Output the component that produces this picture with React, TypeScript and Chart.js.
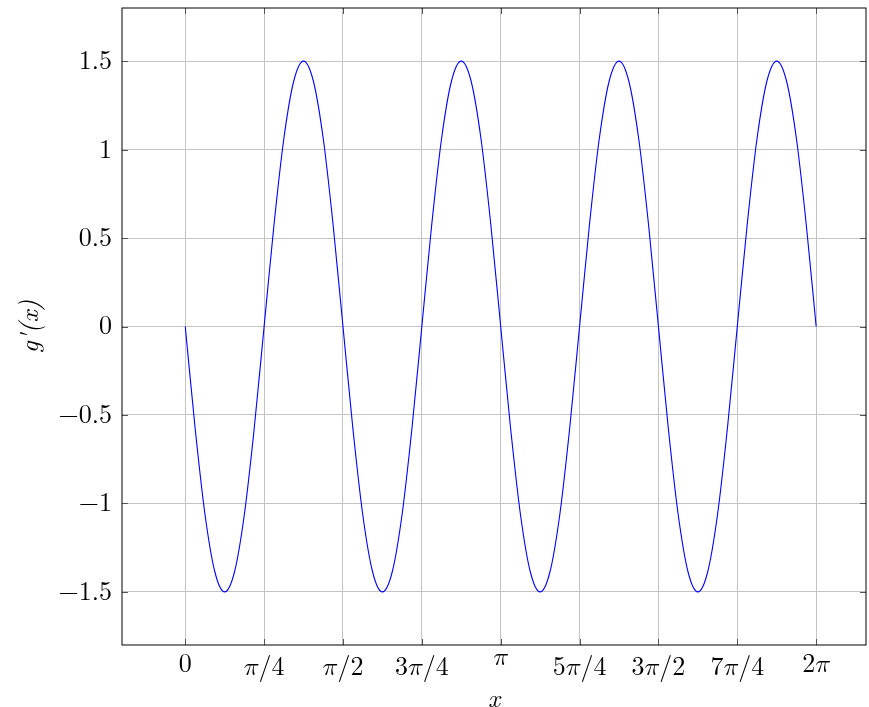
import React, { useEffect, useRef } from "react";
import { Chart, registerables } from "chart.js";

Chart.register(...registerables);

// x positions in units of π
const xValues = [
  0, 0.03125, 0.0625, 0.09375, 0.125, 0.15625, 0.1875, 0.21875,
  0.25, 0.28125, 0.3125, 0.34375, 0.375, 0.40625, 0.4375, 0.46875,
  0.5, 0.53125, 0.5625, 0.59375, 0.625, 0.65625, 0.6875, 0.71875,
  0.75, 0.78125, 0.8125, 0.84375, 0.875, 0.90625, 0.9375, 0.96875,
  1, 1.03125, 1.0625, 1.09375, 1.125, 1.15625, 1.1875, 1.21875,
  1.25, 1.28125, 1.3125, 1.34375, 1.375, 1.40625, 1.4375, 1.46875,
  1.5, 1.53125, 1.5625, 1.59375, 1.625, 1.65625, 1.6875, 1.71875,
  1.75, 1.78125, 1.8125, 1.84375, 1.875, 1.90625, 1.9375, 1.96875,
  2,
];

const gPrimeValues = [
  0, -0.574, -1.061, -1.386, -1.5, -1.386, -1.061, -0.574,
  0, 0.574, 1.061, 1.386, 1.5, 1.386, 1.061, 0.574,
  0, -0.574, -1.061, -1.386, -1.5, -1.386, -1.061, -0.574,
  0, 0.574, 1.061, 1.386, 1.5, 1.386, 1.061, 0.574,
  0, -0.574, -1.061, -1.386, -1.5, -1.386, -1.061, -0.574,
  0, 0.574, 1.061, 1.386, 1.5, 1.386, 1.061, 0.574,
  0, -0.574, -1.061, -1.386, -1.5, -1.386, -1.061, -0.574,
  0, 0.574, 1.061, 1.386, 1.5, 1.386, 1.061, 0.574,
  0,
];

const xTickValues = [0, 0.25, 0.5, 0.75, 1, 1.25, 1.5, 1.75, 2];
const xTickLabels = ["0", "𝜋/4", "𝜋/2", "3𝜋/4", "𝜋", "5𝜋/4", "3𝜋/2", "7𝜋/4", "2𝜋"];
const yTickValues = [-1.5, -1, -0.5, 0, 0.5, 1, 1.5];
const yTickLabels = ["−1.5", "−1", "−0.5", "0", "0.5", "1", "1.5"];

const FONT = "'Latin Modern Roman', 'Latin Modern Math', 'DejaVu Serif', 'Liberation Serif', serif";
const TICK_SIZE = 26;

const innerTicks = {
  id: "innerTicks",
  afterDatasetsDraw(chart: any) {
    const { ctx, chartArea, scales } = chart;
    ctx.save();
    ctx.strokeStyle = "#555555";
    ctx.lineWidth = 1;
    const len = 6;
    for (const v of xTickValues) {
      const px = Math.round(scales.x.getPixelForValue(v)) + 0.5;
      ctx.beginPath();
      ctx.moveTo(px, chartArea.bottom);
      ctx.lineTo(px, chartArea.bottom - len);
      ctx.moveTo(px, chartArea.top);
      ctx.lineTo(px, chartArea.top + len);
      ctx.stroke();
    }
    for (const v of yTickValues) {
      const py = Math.round(scales.y.getPixelForValue(v)) + 0.5;
      ctx.beginPath();
      ctx.moveTo(chartArea.left, py);
      ctx.lineTo(chartArea.left + len, py);
      ctx.moveTo(chartArea.right, py);
      ctx.lineTo(chartArea.right - len, py);
      ctx.stroke();
    }
    ctx.strokeStyle = "#000000";
    ctx.strokeRect(chartArea.left, chartArea.top, chartArea.right - chartArea.left, chartArea.bottom - chartArea.top);
    ctx.restore();
  },
};

export default function App() {
  const ref = useRef<HTMLCanvasElement | null>(null);
  useEffect(() => {
    if (!ref.current) return;
    const chart = new Chart(ref.current, {
      type: "line",
      data: {
        datasets: [
          {
            data: xValues.map((x, i) => ({ x, y: gPrimeValues[i] })),
            borderColor: "#0000ff",
            borderWidth: 1.1,
            pointRadius: 0,
            cubicInterpolationMode: "monotone",
            fill: false,
          },
        ],
      },
      options: {
        animation: false,
        responsive: false,
        events: [],
        layout: { padding: { top: 8, right: 3, left: 0, bottom: 0 } },
        plugins: { legend: { display: false }, tooltip: { enabled: false } },
        scales: {
          x: {
            type: "linear",
            min: -0.2005,
            max: 2.158,
            border: { display: false },
            grid: { color: "#c4c4c4", lineWidth: 1, drawTicks: false },
            afterBuildTicks: (scale: any) => {
              scale.ticks = xTickValues.map((v) => ({ value: v }));
            },
            afterFit: (scale: any) => {
              scale.height = 62;
              scale.paddingLeft = 0;
              scale.paddingRight = 0;
            },
            ticks: {
              padding: 6,
              color: "#000",
              font: (c: any) => {
                const label = xTickLabels[c.index] || "";
                let lh = TICK_SIZE * 1.2;
                if (label === "𝜋") lh -= 20;
                else if (label.indexOf("/") < 0) lh -= 5;
                return { family: FONT, size: TICK_SIZE, lineHeight: lh + "px" };
              },
              maxRotation: 0,
              autoSkip: false,
              callback: (v: any) => {
                const i = xTickValues.indexOf(Number(v));
                return i >= 0 ? xTickLabels[i] : "";
              },
            },
            title: {
              display: true,
              text: "x",
              color: "#000",
              font: { family: FONT, size: 26, style: "italic", lineHeight: 0.6 },
              padding: { top: 0, bottom: 0 },
            },
          },
          y: {
            type: "linear",
            min: -1.8,
            max: 1.8,
            border: { display: false },
            grid: { color: "#c4c4c4", lineWidth: 1, drawTicks: false },
            afterBuildTicks: (scale: any) => {
              scale.ticks = yTickValues.map((v) => ({ value: v }));
            },
            afterFit: (scale: any) => {
              scale.width = 122;
              scale.paddingTop = 0;
              scale.paddingBottom = 0;
            },
            ticks: {
              padding: 10,
              color: "#000",
              font: { family: FONT, size: TICK_SIZE },
              callback: (v: any) => {
                const i = yTickValues.indexOf(Number(v));
                return i >= 0 ? yTickLabels[i] : "";
              },
            },
            title: {
              display: true,
              text: "g'(x)",
              color: "#000",
              font: { family: FONT, size: 26, style: "italic" },
              padding: { top: 14, bottom: 0 },
            },
          },
        },
      },
      plugins: [innerTicks],
    } as any);
    return () => chart.destroy();
  }, []);
  return (
    <div style={{ position: "absolute", left: 0, top: 0, width: 869, height: 707 }}>
      <canvas ref={ref} width={869} height={707} style={{ width: 869, height: 707, display: "block" }} />
    </div>
  );
}
